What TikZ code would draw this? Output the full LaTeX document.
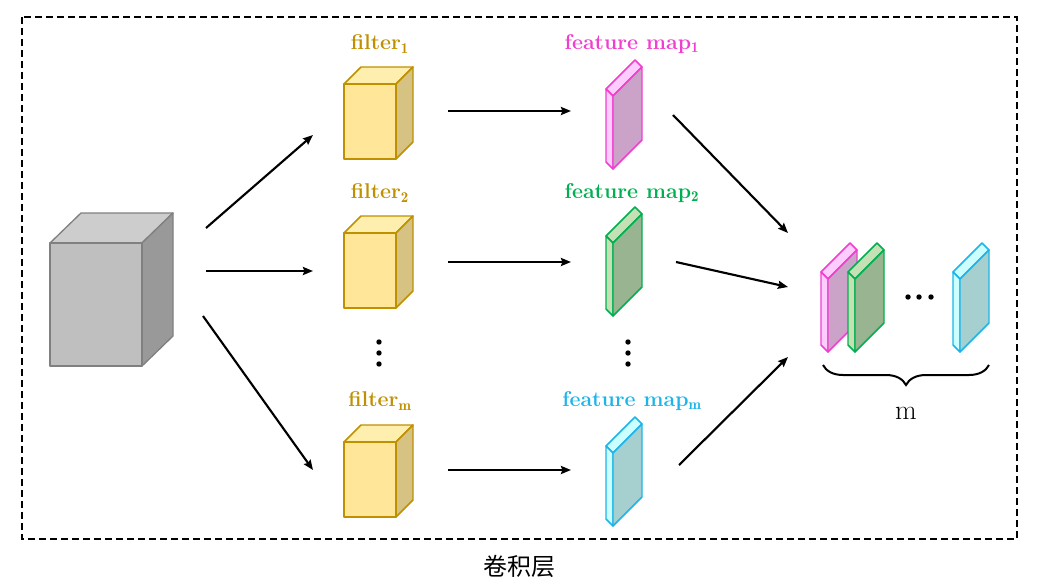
\documentclass[tikz,border=0pt]{standalone}
\usepackage{fontspec}
\newfontfamily\cjk{Noto Sans CJK SC}
\usetikzlibrary{arrows.meta,decorations.pathreplacing}

\definecolor{grayfront}{HTML}{BFBFBF}
\definecolor{graytop}{HTML}{CDCDCD}
\definecolor{grayside}{HTML}{999999}
\definecolor{grayline}{HTML}{808080}
\definecolor{filtline}{HTML}{BF9000}
\definecolor{filtfront}{HTML}{FFE699}
\definecolor{filttop}{HTML}{FFEFAE}
\definecolor{filtside}{HTML}{D6C282}
\definecolor{pinkline}{HTML}{F03FCF}
\definecolor{pinklight}{HTML}{FFCCFF}
\definecolor{pinkside}{HTML}{CBA3C9}
\definecolor{greenline}{HTML}{00B050}
\definecolor{greenlight}{HTML}{C5E0B4}
\definecolor{greenside}{HTML}{98B490}
\definecolor{cyanline}{HTML}{1DB5E8}
\definecolor{cyanlight}{HTML}{CCFFFF}
\definecolor{cyanside}{HTML}{A6CFCF}

\begin{document}
\begin{tikzpicture}[x=0.75pt,y=0.75pt,yscale=-1,xscale=1,
  arr/.style={-{Stealth[length=7.5pt,width=6pt,inset=1pt]},line width=1.6pt},
  lbl/.style={font=\bfseries\fontsize{16}{19}\selectfont,inner sep=0.75pt},
  gry/.style={draw=grayline,line width=1pt,line join=round},
  flt/.style={draw=filtline,line width=1.1pt,line join=round},
  pnk/.style={draw=pinkline,line width=1.1pt,line join=round},
  grn/.style={draw=greenline,line width=1.1pt,line join=round},
  cyn/.style={draw=cyanline,line width=1.1pt,line join=round}]
\useasboundingbox (0,0) rectangle (1057,582);

%Shape: Rectangle (dashed frame)
\draw [line width=1.5pt,dash pattern=on 5.25pt off 3pt] (22,17) rectangle (1017,539);

%Shape: Cube (input)
\draw [gry,fill=graytop] (50,243) -- (142,243) -- (173,213) -- (81,213) -- cycle ;
\draw [gry,fill=grayside] (142,243) -- (173,213) -- (173,336) -- (142,366) -- cycle ;
\draw [gry,fill=grayfront] (50,243) rectangle (142,366) ;

%Shape: Cube (filter 1)
\draw [flt,fill=filttop] (344,84) -- (396,84) -- (413,67) -- (361,67) -- cycle ;
\draw [flt,fill=filtside] (396,84) -- (413,67) -- (413,142) -- (396,159) -- cycle ;
\draw [flt,fill=filtfront] (344,84) rectangle (396,159) ;
%Shape: Cube (filter 2)
\draw [flt,fill=filttop] (344,233) -- (396,233) -- (413,216) -- (361,216) -- cycle ;
\draw [flt,fill=filtside] (396,233) -- (413,216) -- (413,291) -- (396,308) -- cycle ;
\draw [flt,fill=filtfront] (344,233) rectangle (396,308) ;
%Shape: Cube (filter m)
\draw [flt,fill=filttop] (344,442) -- (396,442) -- (413,425) -- (361,425) -- cycle ;
\draw [flt,fill=filtside] (396,442) -- (413,425) -- (413,500) -- (396,517) -- cycle ;
\draw [flt,fill=filtfront] (344,442) rectangle (396,517) ;

%Shape: Slab (feature map 1)
\draw [pnk,fill=pinklight] (606,89) -- ++(7,7) -- ++(29,-29) -- ++(-7,-7) -- cycle ;
\draw [pnk,fill=pinklight] (606,89) -- ++(7,7) -- ++(0,73) -- ++(-7,-7) -- cycle ;
\draw [pnk,fill=pinkside] (613,96) -- ++(29,-29) -- ++(0,73) -- ++(-29,29) -- cycle ;
%Shape: Slab (feature map 2)
\draw [grn,fill=greenlight] (606,236) -- ++(7,7) -- ++(29,-29) -- ++(-7,-7) -- cycle ;
\draw [grn,fill=greenlight] (606,236) -- ++(7,7) -- ++(0,73) -- ++(-7,-7) -- cycle ;
\draw [grn,fill=greenside] (613,243) -- ++(29,-29) -- ++(0,73) -- ++(-29,29) -- cycle ;
%Shape: Slab (feature map m)
\draw [cyn,fill=cyanlight] (606,446) -- ++(7,7) -- ++(29,-29) -- ++(-7,-7) -- cycle ;
\draw [cyn,fill=cyanlight] (606,446) -- ++(7,7) -- ++(0,73) -- ++(-7,-7) -- cycle ;
\draw [cyn,fill=cyanside] (613,453) -- ++(29,-29) -- ++(0,73) -- ++(-29,29) -- cycle ;

%Shape: Slab (stack pink)
\draw [pnk,fill=pinklight] (821,272) -- ++(7,7) -- ++(29,-29) -- ++(-7,-7) -- cycle ;
\draw [pnk,fill=pinklight] (821,272) -- ++(7,7) -- ++(0,73) -- ++(-7,-7) -- cycle ;
\draw [pnk,fill=pinkside] (828,279) -- ++(29,-29) -- ++(0,73) -- ++(-29,29) -- cycle ;
%Shape: Slab (stack green)
\draw [grn,fill=greenlight] (848,272) -- ++(7,7) -- ++(29,-29) -- ++(-7,-7) -- cycle ;
\draw [grn,fill=greenlight] (848,272) -- ++(7,7) -- ++(0,73) -- ++(-7,-7) -- cycle ;
\draw [grn,fill=greenside] (855,279) -- ++(29,-29) -- ++(0,73) -- ++(-29,29) -- cycle ;
%Shape: Slab (stack cyan)
\draw [cyn,fill=cyanlight] (953,272) -- ++(7,7) -- ++(29,-29) -- ++(-7,-7) -- cycle ;
\draw [cyn,fill=cyanlight] (953,272) -- ++(7,7) -- ++(0,73) -- ++(-7,-7) -- cycle ;
\draw [cyn,fill=cyanside] (960,279) -- ++(29,-29) -- ++(0,73) -- ++(-29,29) -- cycle ;

%Shape: Dots
\fill (379,342) circle (2.7) ; \fill (379,353) circle (2.7) ; \fill (379,364) circle (2.7) ;
\fill (628,342) circle (2.7) ; \fill (628,353) circle (2.7) ; \fill (628,364) circle (2.7) ;
\fill (908,297) circle (2.7) ; \fill (919,297) circle (2.7) ; \fill (931,297) circle (2.7) ;

%Shape: Brace
\draw [line width=1.5pt,decorate,decoration={brace,mirror,amplitude=15pt}] (823,365) -- (989,365) ;

%Arrow ends
\coordinate (inA) at (206,228) ; \coordinate (fltA) at (313,135) ;
\coordinate (inB) at (206,271) ; \coordinate (fltB) at (313,271) ;
\coordinate (inC) at (203,316) ; \coordinate (fltC) at (313,470) ;
\coordinate (fltoA) at (448,111) ; \coordinate (mapA) at (571,111) ;
\coordinate (fltoB) at (448,262) ; \coordinate (mapB) at (571,262) ;
\coordinate (fltoC) at (448,470) ; \coordinate (mapC) at (571,470) ;
\coordinate (mapoA) at (673,115) ; \coordinate (stkA) at (788,233) ;
\coordinate (mapoB) at (676,262) ; \coordinate (stkB) at (788,287) ;
\coordinate (mapoC) at (679,465) ; \coordinate (stkC) at (788,357) ;

%Straight Lines
\draw [arr] (inA) -- (fltA) ;
\draw [arr] (inB) -- (fltB) ;
\draw [arr] (inC) -- (fltC) ;
\draw [arr] (fltoA) -- (mapA) ;
\draw [arr] (fltoB) -- (mapB) ;
\draw [arr] (fltoC) -- (mapC) ;
\draw [arr] (mapoA) -- (stkA) ;
\draw [arr] (mapoB) -- (stkB) ;
\draw [arr] (mapoC) -- (stkC) ;

% Text Node
\draw (380,44) node (txtfilt1) [lbl,text=filtline] {filter$_{\mathbf{1}}$};
% Text Node
\draw (380,193) node (txtfilt2) [lbl,text=filtline] {filter$_{\mathbf{2}}$};
% Text Node
\draw (380,401) node (txtfiltm) [lbl,text=filtline] {filter$_{\mathbf{m}}$};
% Text Node
\draw (632,44) node (txtmap1) [lbl,text=pinkline] {feature map$_{\mathbf{1}}$};
% Text Node
\draw (632,193) node (txtmap2) [lbl,text=greenline] {feature map$_{\mathbf{2}}$};
% Text Node
\draw (632,401) node (txtmapm) [lbl,text=cyanline] {feature map$_{\mathbf{m}}$};
% Text Node
\draw (906,413) node (txtm) [inner sep=0.75pt,font=\fontsize{21}{25}\selectfont] {m};
% Text Node
\draw (519,566) node (txtlayer) [inner sep=0.75pt,font=\cjk\fontsize{18}{22}\selectfont] {卷积层};
\end{tikzpicture}
\end{document}
